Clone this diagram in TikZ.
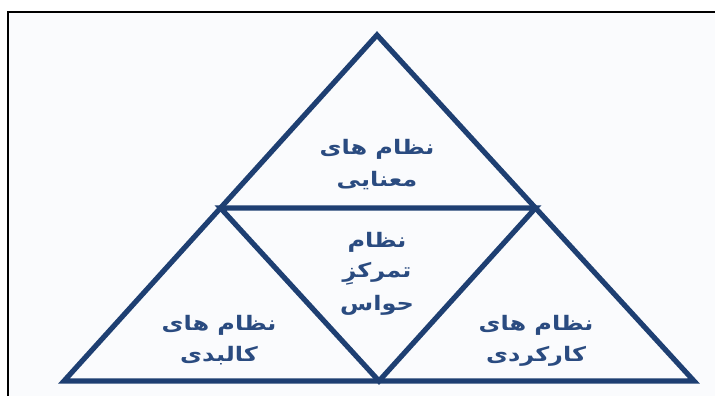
\documentclass[tikz,border=0pt]{standalone}
\usepackage{fontspec}
\usetikzlibrary{calc}
\TeXXeTstate=1
\newfontfamily\arabicfont[Script=Arabic]{DejaVu Sans}
\definecolor{tri}{HTML}{1E3F72}
\definecolor{txt}{HTML}{2A4B80}
\definecolor{bgin}{HTML}{FAFBFD}
\tikzset{
  edge/.style={draw=tri, line width=5.2pt, line join=miter},
  lbl/.style={text=txt, font=\arabicfont\bfseries\fontsize{20}{24}\selectfont, inner sep=0pt, anchor=center, xscale=1.2}
}
\begin{document}
\begin{tikzpicture}[x=1pt,y=-1pt]
\useasboundingbox (0,0) rectangle (715,396);
\clip (0,0) rectangle (715,396);
\fill[white] (0,0) rectangle (715,396);
\draw[black, line width=1.8pt, fill=bgin] (8,12) rectangle (730,410);
% vertices
\coordinate (A) at (377,35);
\coordinate (L) at (64,381);
\coordinate (R) at (694,381);
\coordinate (ML) at ($(A)!0.5!(L)$);
\coordinate (MR) at ($(A)!0.5!(R)$);
\coordinate (MB) at ($(L)!0.5!(R)$);
\draw[edge] (A) -- (R) -- (L) -- cycle;
\draw[edge] (ML) -- (MR) -- (MB) -- cycle;
% labels
\node[lbl] (t1) at (377,149) {\beginR نظام های\endR};
\node[lbl] (t2) at (377,181) {\beginR معنایی\endR};
\node[lbl] (c1) at (377,242) {\beginR نظام\endR};
\node[lbl] (c2) at (377,274) {\beginR تمرکزِ\endR};
\node[lbl] (c3) at (377,305) {\beginR حواس\endR};
\node[lbl] (l1) at (219,325) {\beginR نظام های\endR};
\node[lbl] (l2) at (219,356) {\beginR کالبدی\endR};
\node[lbl] (r1) at (536,325) {\beginR نظام های\endR};
\node[lbl] (r2) at (536,356) {\beginR کارکردی\endR};
\end{tikzpicture}
\end{document}
